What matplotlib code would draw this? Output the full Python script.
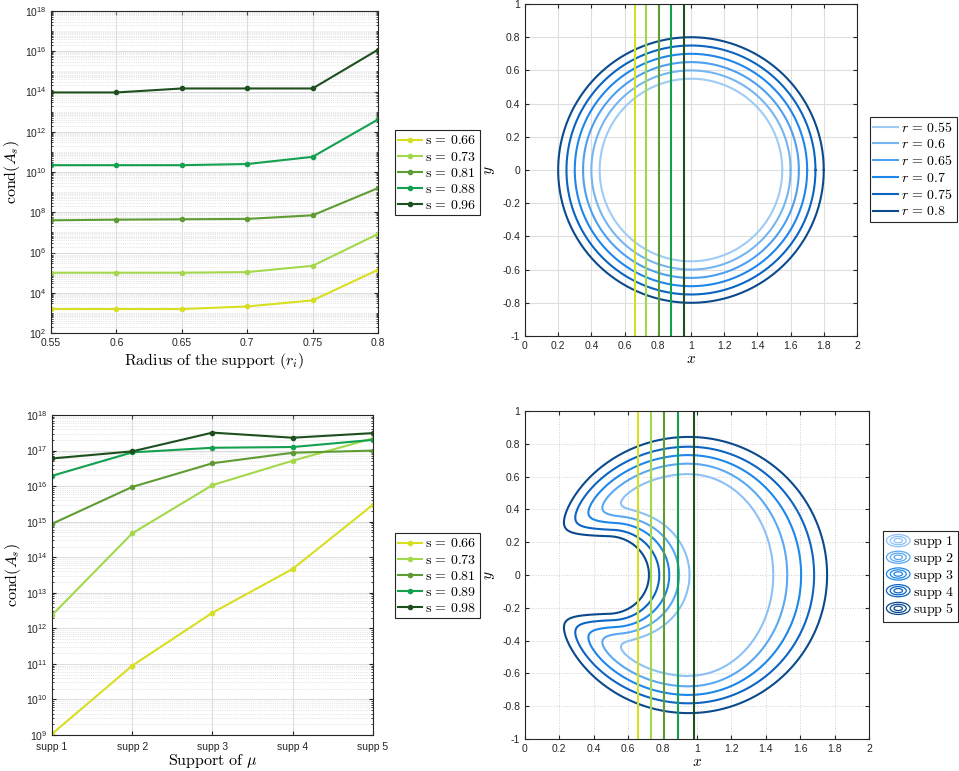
import numpy as np
import matplotlib
matplotlib.use('Agg')
import matplotlib.pyplot as plt
from matplotlib.lines import Line2D
from matplotlib.patches import Ellipse
from matplotlib.legend_handler import HandlerBase
from matplotlib.ticker import LogLocator, FixedLocator, NullFormatter

plt.rcParams['font.family'] = ['Liberation Sans', 'DejaVu Sans']
plt.rcParams['mathtext.fontset'] = 'cm'

# ---- data ----
# top left: cond(A_s) vs radius of the support
radius = [0.55, 0.6, 0.65, 0.7, 0.75, 0.8]
s_top = [0.66, 0.73, 0.81, 0.88, 0.96]
cond_s066 = [1.56e3, 1.56e3, 1.56e3, 2.1e3, 4.2e3, 1.4e5]
cond_s073 = [1.0e5, 1.0e5, 1.0e5, 1.07e5, 2.2e5, 8.4e6]
cond_s081 = [4.0e7, 4.3e7, 4.5e7, 4.7e7, 7.1e7, 1.6e9]
cond_s088 = [2.2e10, 2.2e10, 2.2e10, 2.5e10, 5.7e10, 4.1e12]
cond_s096 = [9.0e13, 9.0e13, 1.42e14, 1.42e14, 1.42e14, 1.2e16]

# top right: circular supports
circle_cx = 1.0
radii = [0.55, 0.6, 0.65, 0.7, 0.75, 0.8]

# bottom left: cond(A_s) vs support of mu
supp_labels = ['supp 1', 'supp 2', 'supp 3', 'supp 4', 'supp 5']
s_bot = [0.66, 0.73, 0.81, 0.89, 0.98]
condb_s066 = [1.07e9, 8.9e10, 2.75e12, 4.7e13, 3.0e15]
condb_s073 = [2.35e12, 4.7e14, 1.07e16, 5.2e16, 2.2e17]
condb_s081 = [8.7e14, 9.5e15, 4.4e16, 8.7e16, 1.0e17]
condb_s089 = [1.95e16, 8.9e16, 1.2e17, 1.26e17, 2.0e17]
condb_s098 = [6.0e16, 9.5e16, 3.2e17, 2.3e17, 3.1e17]

# bottom right: kidney shaped supports (outer oval minus a notch)
supp_cx = [0.95, 0.95, 0.95, 0.95, 0.95]
supp_aL = [0.66, 0.70, 0.74, 0.785, 0.825]
supp_aR = [0.50, 0.58, 0.66, 0.735, 0.81]
supp_b = [0.626, 0.687, 0.738, 0.788, 0.847]
notch_h = [0.37, 0.335, 0.30, 0.262, 0.225]
notch_e = [0.58, 0.555, 0.533, 0.513, 0.49]

greens = ['#d7df23', '#a3d84c', '#5f9c33', '#13a04f', '#1e4f1e']
blues6 = ['#9fcbf6', '#75b5f2', '#4d9ff0', '#1f86ea', '#0a64c0', '#0b4a8c']
blues5 = ['#8cc1f7', '#5aa8f2', '#1d87ea', '#0d64c2', '#0b4a8c']

fig = plt.figure(figsize=(9.59, 7.71), dpi=100)
grid_c = '#dedede'
spine_c = '#262626'


def style(ax):
    ax.tick_params(which='both', direction='in', top=True, right=True,
                   labelsize=7.5, colors=spine_c, length=3)
    ax.tick_params(which='minor', length=1.5)
    for sp in ax.spines.values():
        sp.set_color(spine_c)
        sp.set_linewidth(0.8)
    ax.set_axisbelow(True)


def legend(ax, x, y, hl=1.7, ls=0.15, **kw):
    lg = ax.legend(loc='upper left', bbox_to_anchor=(x, y), bbox_transform=fig.transFigure,
                   fancybox=False, edgecolor=spine_c, framealpha=1, fontsize=10,
                   handlelength=hl, borderpad=0.25, labelspacing=ls,
                   handletextpad=0.2, borderaxespad=0, **kw)
    lg.get_frame().set_linewidth(0.8)
    return lg


# ---- top left ----
ax1 = fig.add_axes([0.0532, 0.568, 0.341, 0.4177])
for vals, s, c in zip([cond_s066, cond_s073, cond_s081, cond_s088, cond_s096], s_top, greens):
    ax1.plot(radius, vals, '-o', color=c, lw=1.5, ms=3, label=r'$\mathrm{s}\,=\,%.2f$' % s)
ax1.set_yscale('log')
ax1.set_xlim(0.55, 0.8)
ax1.set_ylim(1e2, 1e18)
ax1.set_xticks(radius)
ax1.set_xticklabels(['0.55', '0.6', '0.65', '0.7', '0.75', '0.8'])
ax1.yaxis.set_major_locator(FixedLocator([10.0 ** k for k in range(2, 19, 2)]))
ax1.yaxis.set_minor_locator(LogLocator(base=10, subs=np.arange(1, 10), numticks=200))
ax1.yaxis.set_minor_formatter(NullFormatter())
ax1.grid(True, which='major', color=grid_c, lw=0.8)
ax1.grid(True, which='minor', axis='y', color='#d0d0d0', lw=0.5, ls=':')
style(ax1)
ax1.set_xlabel(r'$\mathrm{Radius\ of\ the\ support}\ (r_i)$', fontsize=11.5, labelpad=2)
ax1.set_ylabel(r'$\mathrm{cond}(A_s)$', fontsize=11.5, labelpad=2)
legend(ax1, 0.4119, 0.8314)

# ---- top right ----
ax2 = fig.add_axes([0.5474, 0.5642, 0.3462, 0.4306])
theta = np.linspace(0, 2 * np.pi, 400)
for r, c in zip(radii, blues6):
    ax2.plot(circle_cx + r * np.cos(theta), r * np.sin(theta), color=c, lw=1.5,
             label=r'$r\,=\,%s$' % ('%g' % r))
for s, c in zip(s_top, greens):
    ax2.axvline(s, color=c, lw=1.5)
ax2.set_xlim(0, 2)
ax2.set_ylim(-1, 1)
ax2.set_xticks(np.arange(0, 2.01, 0.2))
ax2.set_xticklabels(['0', '0.2', '0.4', '0.6', '0.8', '1', '1.2', '1.4', '1.6', '1.8', '2'])
ax2.set_yticks(np.arange(-1, 1.01, 0.2))
ax2.set_yticklabels(['-1', '-0.8', '-0.6', '-0.4', '-0.2', '0', '0.2', '0.4', '0.6', '0.8', '1'])
ax2.grid(True, color=grid_c, lw=0.8)
style(ax2)
ax2.set_xlabel(r'$x$', fontsize=11, labelpad=1)
ax2.set_ylabel(r'$y$', fontsize=11, labelpad=4)
legend(ax2, 0.9072, 0.8482, hl=1.8, ls=0.2)

# ---- bottom left ----
ax3 = fig.add_axes([0.0542, 0.0467, 0.3347, 0.4150])
xs = np.arange(1, 6)
for vals, s, c in zip([condb_s066, condb_s073, condb_s081, condb_s089, condb_s098], s_bot, greens):
    ax3.plot(xs, vals, '-o', color=c, lw=1.5, ms=3, label=r'$\mathrm{s}\,=\,%.2f$' % s)
ax3.set_yscale('log')
ax3.set_xlim(1, 5)
ax3.set_ylim(1e9, 1e18)
ax3.set_xticks(xs)
ax3.set_xticklabels(supp_labels)
ax3.yaxis.set_major_locator(FixedLocator([10.0 ** k for k in range(9, 19)]))
ax3.yaxis.set_minor_locator(LogLocator(base=10, subs=np.arange(2, 10), numticks=200))
ax3.yaxis.set_minor_formatter(NullFormatter())
ax3.grid(True, which='major', color=grid_c, lw=0.8)
ax3.grid(True, which='minor', axis='y', color='#d0d0d0', lw=0.5, ls=':')
style(ax3)
ax3.tick_params(axis='x', pad=5)
ax3.set_xlabel(r'$\mathrm{Support\ of}\ \mu$', fontsize=11.5, labelpad=0)
ax3.set_ylabel(r'$\mathrm{cond}(A_s)$', fontsize=11.5, labelpad=2)
legend(ax3, 0.4119, 0.3087)

# ---- bottom right ----
ax4 = fig.add_axes([0.5474, 0.0415, 0.3587, 0.4254])
gx, gy = np.meshgrid(np.linspace(0, 2, 500), np.linspace(-1, 1, 500))
k = 0.12
for i in range(5):
    a = np.where(gx > supp_cx[i], supp_aR[i], supp_aL[i])
    q = np.sqrt(((gx - supp_cx[i]) / a) ** 2 + (gy / supp_b[i]) ** 2)
    f_out = (q - 1) * np.sqrt(a * supp_b[i])
    f_notch = notch_h[i] - np.sqrt(np.maximum(gx - notch_e[i], 0) ** 2 + gy ** 2)
    F = 0.5 * (f_out + f_notch + np.sqrt((f_out - f_notch) ** 2 + k ** 2))
    ax4.contour(gx, gy, F, levels=[0], colors=[blues5[i]], linewidths=1.5)
for s, c in zip(s_bot, greens):
    ax4.axvline(s, color=c, lw=1.5)
ax4.set_xlim(0, 2)
ax4.set_ylim(-1, 1)
ax4.set_xticks(np.arange(0, 2.01, 0.2))
ax4.set_xticklabels(['0', '0.2', '0.4', '0.6', '0.8', '1', '1.2', '1.4', '1.6', '1.8', '2'])
ax4.set_yticks(np.arange(-1, 1.01, 0.2))
ax4.set_yticklabels(['-1', '-0.8', '-0.6', '-0.4', '-0.2', '0', '0.2', '0.4', '0.6', '0.8', '1'])
ax4.grid(True, color='#cfcfcf', lw=0.7, ls=':')
style(ax4)
ax4.set_xlabel(r'$x$', fontsize=11, labelpad=1)
ax4.set_ylabel(r'$y$', fontsize=11, labelpad=4)


class ContourIcon(HandlerBase):
    def create_artists(self, legend, orig_handle, xdescent, ydescent, width, height,
                       fontsize, trans):
        cx = width / 2 - xdescent
        cy = height / 2 - ydescent
        arts = []
        for f in (1.0, 0.68, 0.36):
            arts.append(Ellipse((cx, cy), width * f, height * 1.25 * f, fill=False,
                                ec=orig_handle.get_color(), lw=0.9, transform=trans))
        return arts


handles = [Line2D([], [], color=c) for c in blues5]
legend(ax4, 0.9207, 0.3113, ls=0.05, handles=handles,
       labels=[r'$\mathrm{supp\ %d}$' % (i + 1) for i in range(5)],
       handler_map={Line2D: ContourIcon()})

fig.savefig('out.png', dpi=100)
